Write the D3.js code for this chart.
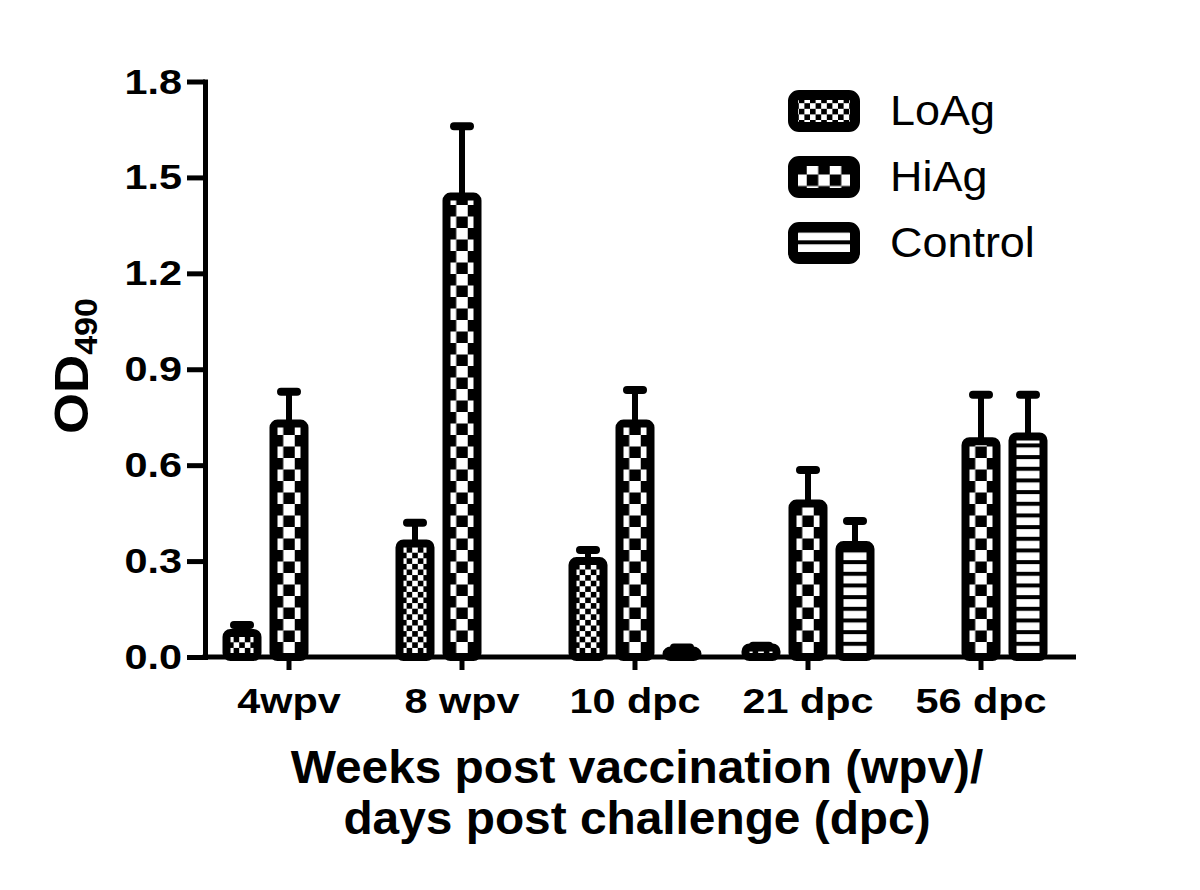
<!DOCTYPE html>
<html>
<head>
<meta charset="utf-8">
<script src="https://cdn.jsdelivr.net/npm/d3@7"></script>
<style>
  html, body { margin: 0; padding: 0; background: #fff; }
  svg { display: block; font-family: "Liberation Sans", Arial, sans-serif; }
</style>
</head>
<body>
<svg id="chart" width="1200" height="890"></svg>
<script>
// ---------------- data ----------------
const categories = ["4wpv", "8 wpv", "10 dpc", "21 dpc", "56 dpc"];
const seriesNames = ["LoAg", "HiAg", "Control"];
const loAgValues   = [0.075, 0.355, 0.30, 0.03, 0];
const loAgErrors   = [0.025, 0.065, 0.035, 0.005, 0];
const hiAgValues   = [0.73, 1.44, 0.73, 0.48, 0.675];
const hiAgErrors   = [0.10, 0.22, 0.105, 0.105, 0.145];
const controlValues = [null, null, 0.02, 0.35, 0.69];
const controlErrors = [null, null, 0.01, 0.075, 0.13];
const yTickValues = [0, 0.3, 0.6, 0.9, 1.2, 1.5, 1.8];
const yTitle = "OD";
const yTitleSub = "490";
const xTitleLines = ["Weeks post vaccination (wpv)/", "days post challenge (dpc)"];

const seriesValues = { LoAg: loAgValues, HiAg: hiAgValues, Control: controlValues };
const seriesErrors = { LoAg: loAgErrors, HiAg: hiAgErrors, Control: controlErrors };
const seriesPattern = { LoAg: "lo", HiAg: "hi", Control: "ctrl" };

// ---------------- layout ----------------
const svg = d3.select("#chart");
const defs = svg.append("defs");
const axisX0 = 205, axisY0 = 657;
const TS = 1.15; // horizontal text stretch

const x = d3.scaleBand().domain(categories).range([202.5, 1067.5]).padding(0);
const xSub = d3.scaleBand().domain(seriesNames).range([-70.5, 70.5]).padding(0);
const y = d3.scaleLinear().domain([0, 1.8]).range([axisY0, 81.5]);

const barW = 31, barStroke = 8;

function makePattern(id, type, cx, yb) {
  const p = defs.append("pattern").attr("id", id).attr("patternUnits", "userSpaceOnUse");
  if (type === "hi" || type === "lo") {
    const c = type === "hi" ? 11.5 : 5.6;
    p.attr("x", cx - c / 2 - c).attr("y", yb - c).attr("width", 2 * c).attr("height", 2 * c);
    p.append("rect").attr("width", 2 * c).attr("height", 2 * c).attr("fill", "#fff");
    p.append("rect").attr("x", c).attr("y", c).attr("width", c).attr("height", c).attr("fill", "#000");
    p.append("rect").attr("x", 0).attr("y", 0).attr("width", c).attr("height", c).attr("fill", "#000");
  } else {
    const h = 11.67;
    p.attr("x", 0).attr("y", yb - h).attr("width", 20).attr("height", h);
    p.append("rect").attr("width", 20).attr("height", h).attr("fill", "#fff");
    p.append("rect").attr("x", 0).attr("y", 0).attr("width", 20).attr("height", 4).attr("fill", "#000");
  }
  return "url(#" + id + ")";
}

// ---------------- bars ----------------
const barsData = [];
seriesNames.forEach(s => {
  categories.forEach((c, i) => {
    const v = seriesValues[s][i];
    if (v === null || v === 0) return;
    barsData.push({ s, c, i, v, e: seriesErrors[s][i] });
  });
});

const gBars = svg.append("g");
barsData.forEach(d => {
  const cx = x(d.c) + x.bandwidth() / 2 + xSub(d.s) + xSub.bandwidth() / 2;
  const fill = makePattern("p-" + d.s + "-" + d.i, seriesPattern[d.s], cx, axisY0 - 3.5);
  const g = gBars.append("g");
  // error bar (upper only)
  g.append("line")
    .attr("x1", cx).attr("x2", cx)
    .attr("y1", y(d.v)).attr("y2", y(d.v + d.e))
    .attr("stroke", "#000").attr("stroke-width", 6);
  g.append("line")
    .attr("x1", cx - 8).attr("x2", cx + 8)
    .attr("y1", y(d.v + d.e)).attr("y2", y(d.v + d.e))
    .attr("stroke", "#000").attr("stroke-width", 8).attr("stroke-linecap", "round");
  g.append("rect")
    .attr("x", cx - barW / 2).attr("width", barW)
    .attr("y", y(d.v)).attr("height", y(0) - y(d.v))
    .attr("rx", 4).attr("ry", 4)
    .attr("fill", fill).attr("stroke", "#000").attr("stroke-width", barStroke);
});

// ---------------- axes ----------------
const yAxis = d3.axisLeft(y).tickValues(yTickValues).tickFormat(d3.format(".1f"))
  .tickSize(18).tickSizeOuter(0);
const gy = svg.append("g").attr("transform", `translate(${axisX0},0)`).call(yAxis);
gy.select(".domain").attr("stroke", "#000").attr("stroke-width", 5).attr("stroke-linecap", "square");
gy.selectAll(".tick line").attr("stroke", "#000").attr("stroke-width", 5);
gy.selectAll(".tick text")
  .attr("x", -20).attr("dy", "0.32em")
  .attr("transform", `scale(${TS},1)`)
  .attr("fill", "#000").attr("font-size", 36).attr("font-weight", "bold")
  .attr("font-family", "'Liberation Sans', Arial, sans-serif");

const xAxis = d3.axisBottom(x).tickSize(13).tickSizeOuter(0);
const gx = svg.append("g").attr("transform", `translate(0,${axisY0})`).call(xAxis);
gx.select(".domain").remove();
gx.append("line").attr("x1", axisX0 - 2.5).attr("x2", 1076).attr("y1", 0).attr("y2", 0)
  .attr("stroke", "#000").attr("stroke-width", 5);
gx.selectAll(".tick line").attr("stroke", "#000").attr("stroke-width", 5);
gx.selectAll(".tick text")
  .attr("y", 56).attr("dy", 0)
  .attr("transform", `scale(${TS},1)`)
  .attr("fill", "#000").attr("font-size", 36).attr("font-weight", "bold")
  .attr("font-family", "'Liberation Sans', Arial, sans-serif");

// ---------------- titles ----------------
const yt = svg.append("text")
  .attr("transform", "translate(88,366) rotate(-90) scale(1.1,1)")
  .attr("text-anchor", "middle")
  .attr("font-size", 48).attr("font-weight", "bold").attr("fill", "#000");
yt.append("tspan").text(yTitle);
yt.append("tspan").attr("font-size", 31).attr("dy", 9).text(yTitleSub);

const xtBaselines = [783, 834];
xTitleLines.forEach((t, k) => {
  svg.append("text")
    .attr("transform", `translate(637,${xtBaselines[k]}) scale(1.04,1)`)
    .attr("text-anchor", "middle")
    .attr("font-size", 46).attr("font-weight", "bold").attr("fill", "#000")
    .text(t);
});

// ---------------- legend ----------------
const legendCenters = [111, 177, 243];
seriesNames.forEach((s, k) => {
  const cy = legendCenters[k];
  const fill = makePattern("leg-" + s, seriesPattern[s], 824, cy + 9);
  svg.append("rect")
    .attr("x", 793).attr("y", cy - 16).attr("width", 62).attr("height", 32)
    .attr("rx", 6).attr("ry", 6)
    .attr("fill", fill).attr("stroke", "#000").attr("stroke-width", 10);
  svg.append("text")
    .attr("transform", `translate(890,${cy + 14}) scale(1.07,1)`)
    .attr("font-size", 42).attr("fill", "#000")
    .text(s);
});
</script>
</body>
</html>
